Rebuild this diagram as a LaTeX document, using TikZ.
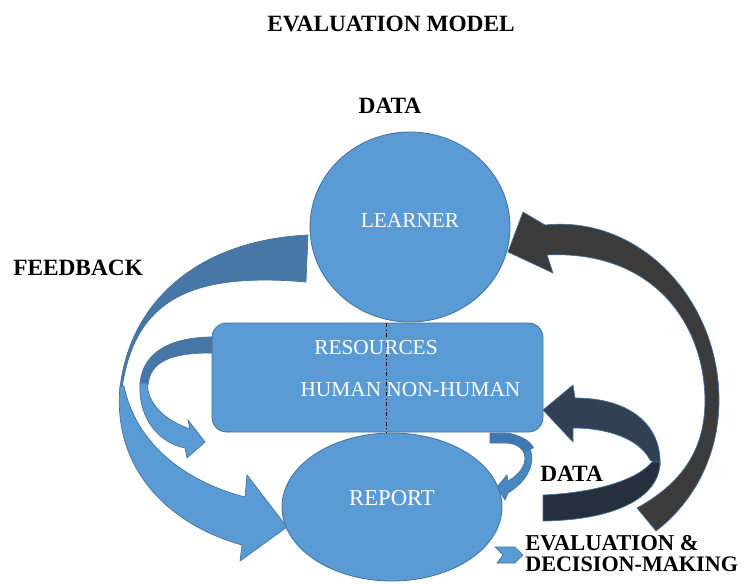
\documentclass[tikz,border=0pt]{standalone}
\usepackage{fontspec}
\setmainfont{Liberation Serif}
\usetikzlibrary{shapes.geometric}
\definecolor{mblue}{HTML}{5B9BD5}
\definecolor{mline}{HTML}{41719C}
\definecolor{fbdark}{HTML}{4677A7}
\definecolor{dgray}{HTML}{3B3B3B}
\definecolor{navyA}{HTML}{333F53}
\definecolor{navyB}{HTML}{262F3D}
\definecolor{sblue}{HTML}{4A86C2}
\definecolor{sbluedark}{HTML}{4079B0}
\tikzset{
  shapeline/.style={draw=mline, line width=0.5pt},
  wlbl/.style={text=white, font=\fontsize{16}{19}\selectfont, inner sep=0pt},
  blbl/.style={font=\bfseries\fontsize{17.5}{20}\selectfont, inner sep=0pt},
  blob/.style={fill=mblue, draw=mline, line width=0.6pt, inner sep=0pt}
}
\begin{document}
\begin{tikzpicture}[x=0.75pt,y=-0.75pt]
\useasboundingbox (0,0) rectangle (753,583);

% FEEDBACK big arrow: upper (dark) part
\filldraw[fill=fbdark, shapeline]
  (308,235) .. controls (200,240) and (130,300) .. (120,388)
  -- (122,388) .. controls (135,300) and (190,272) .. (306,282) -- cycle;
% FEEDBACK big arrow: lower (light) part
\filldraw[fill=mblue, shapeline]
  (120,386) .. controls (112,470) and (170,525) .. (242,545)
  -- (240,561) -- (287,527) -- (247,475) -- (245,497)
  .. controls (180,480) and (135,440) .. (124,386) -- cycle;

% small left arrow
\filldraw[fill=fbdark, shapeline]
  (222,337) -- (210,337) .. controls (160,338) and (140,360) .. (140,387)
  -- (148,385) .. controls (150,362) and (170,353) .. (210,353) -- (222,353) -- cycle;
\filldraw[fill=mblue, shapeline]
  (140,383) .. controls (138,420) and (160,443) .. (185,448)
  -- (187,458) -- (205,442) -- (188,420) -- (190,429)
  .. controls (165,420) and (148,405) .. (147,383) -- cycle;

% dark grey arrow (to LEARNER)
\filldraw[fill=dgray, shapeline]
  (508,252) -- (523,212) -- (545,225)
  .. controls (640,215) and (719,300) .. (719,400)
  .. controls (719,460) and (690,505) .. (656,531)
  -- (637,508)
  .. controls (682,483) and (705,450) .. (705,400)
  .. controls (704,320) and (650,250) .. (547,255)
  -- (553,273) -- cycle;

% navy arrow (to RESOURCES)
\filldraw[fill=navyA, shapeline]
  (543,410) -- (573,385) -- (575,398)
  .. controls (630,398) and (662,425) .. (660,466)
  -- (650,460) .. controls (640,440) and (610,428) .. (573,428)
  -- (573,442) -- cycle;
\filldraw[fill=navyB, shapeline]
  (543,495) .. controls (590,493) and (635,482) .. (652,462)
  -- (660,462) .. controls (660,495) and (620,520) .. (543,521) -- cycle;

% small DATA arrow
\filldraw[fill=sblue, shapeline]
  (490,433) -- (505,433) .. controls (535,434) and (545,470) .. (508,493)
  -- (505,500) -- (497,487) -- (507,475) -- (508,481)
  .. controls (532,468) and (530,443) .. (505,443) -- (490,443) -- cycle;
\fill[sbluedark] (490,433.4) -- (505,433.4) .. controls (520,434) and (530,440) .. (534,448)
  -- (524,452) .. controls (520,446) and (514,443) .. (505,442.6) -- (490,442.6) -- cycle;

% chevron
\filldraw[fill=mblue, shapeline] (495,547) -- (515,547) -- (523,555) -- (515,563) -- (497,563) -- (503,555) -- cycle;

% main shapes
\node[blob, ellipse, minimum width=150pt, minimum height=142.5pt] (learner) at (410,227) {};
\node[blob, rectangle, rounded corners=11pt, minimum width=248.25pt, minimum height=81.75pt] (box) at (377.5,377.5) {};
\node[blob, ellipse, minimum width=165pt, minimum height=111pt] (report) at (392,507) {};

\coordinate (divtop) at (386,323);
\coordinate (divbot) at (386,432);
\draw[dash dot, line width=0.7pt, black] (divtop) -- (divbot);

% labels
\node[wlbl] (llearner) at (410,220) {LEARNER};
\node[wlbl] (lres) at (376,348) {RESOURCES};
\node[wlbl] (lhum) at (410.5,390) {HUMAN NON-HUMAN};
\node[wlbl, font=\fontsize{17}{20}\selectfont] (lrep) at (392,498) {REPORT};

\node[blbl] (title) at (391,24) {EVALUATION MODEL};
\node[blbl] (data1) at (390,106) {DATA};
\node[blbl, anchor=west] (feedback) at (13,268) {FEEDBACK};
\node[blbl, anchor=west] (data2) at (540,474) {DATA};
\node[blbl, font=\bfseries\fontsize{17}{20}\selectfont, anchor=west] (eval1) at (525,543) {EVALUATION \&};
\node[blbl, font=\bfseries\fontsize{16.6}{20}\selectfont, anchor=west] (eval2) at (525,564) {DECISION-MAKING};
\end{tikzpicture}
\end{document}
